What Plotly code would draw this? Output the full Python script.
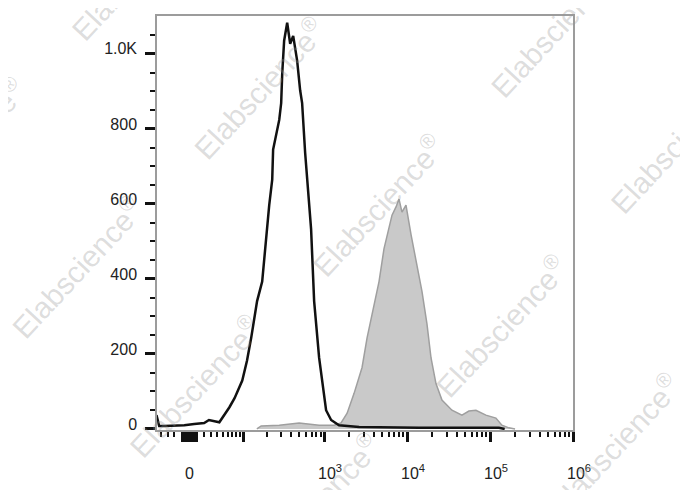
import numpy as np
import plotly.graph_objects as go

# ---------------- data ----------------
# Unstained / control histogram (black line): fluorescence intensity vs. count
ctrl_intensity = [-49, -44, -35, -20, -6.5, 6.5, 20, 27, 35, 44,
                  64, 76, 97, 112, 127, 151, 175, 196, 214, 233,
                  239, 284, 300, 309, 326, 355, 386, 420, 469, 510,
                  539, 586, 619, 692, 753, 865, 1050, 1208, 1505, 2627,
                  13870, 127600, 150000]
ctrl_count = [37, 8, 8, 8, 10, 13, 16, 24, 21, 18,
              58, 82, 129, 182, 243, 341, 393, 518, 597, 665,
              745, 824, 869, 948, 1035, 1083, 1027, 1048, 982, 903,
              869, 737, 671, 533, 341, 190, 50, 24, 10, 5,
              3, 3, 0]

# Stained histogram (grey filled)
stain_intensity = [150, 170, 284, 496, 865, 1311, 1592, 1885, 2287, 2853,
                   3280, 3767, 4571, 5252, 6558, 7330, 7966, 8650, 9665, 11120,
                   13120, 15070, 17310, 19360, 22230, 26260, 34660, 45730, 55490, 67460,
                   88980, 117500, 138700, 168400, 200000]
stain_count = [0, 8, 10, 16, 10, 10, 16, 42, 95, 164,
               243, 306, 393, 481, 570, 592, 613, 578, 597, 518,
               438, 367, 280, 190, 121, 77, 50, 37, 48, 50,
               37, 29, 10, 3, 0]

# axis ticks
y_tick_vals = [0, 200, 400, 600, 800, 1000]
y_tick_text = ["0", "200", "400", "600", "800", "1.0K"]
y_minor_vals = [50, 100, 150, 250, 300, 350, 450, 500, 550, 650, 700, 750,
                850, 900, 950, 1050]

x_label_vals = [0, 1e3, 1e4, 1e5, 1e6]
x_label_text = ["0", "10<sup>3</sup>", "10<sup>4</sup>",
                "10<sup>5</sup>", "10<sup>6</sup>"]

# ---------------- biexponential (arcsinh) display transform ----------------
W = 47.0


def biex(v):
    return np.arcsinh(np.asarray(v, dtype=float) / W) / np.log(10)


# major ticks: labelled ones, 10^2 and a dense block around zero
near_zero = [k for k in range(-9, 10) if k != 0]
major_vals = list(x_label_vals) + [100] + near_zero

minor_vals = [-50, -40, -30, -20, -10, 10]
for n in range(1, 6):
    for k in range(2, 10):
        minor_vals.append(k * 10 ** n)

fig = go.Figure()

fig.add_trace(go.Scatter(
    x=biex(stain_intensity), y=stain_count, mode="lines",
    fill="tozeroy", fillcolor="#c9c9c9",
    line=dict(color="#9f9f9f", width=1.5),
    showlegend=False, hoverinfo="skip"))

fig.add_trace(go.Scatter(
    x=biex(ctrl_intensity), y=ctrl_count, mode="lines",
    line=dict(color="#111111", width=2.5),
    showlegend=False, hoverinfo="skip"))

font_family = "Liberation Sans, Arial, Helvetica, sans-serif"

# page body has an 8px default margin -> figure is 8px smaller than the window
PLOT_H = 416
fig.update_layout(
    width=680, height=482,
    margin=dict(l=149, r=115, t=6, b=60),
    paper_bgcolor="white", plot_bgcolor="white",
    font=dict(family=font_family, size=16, color="#222222"),
    showlegend=False,
)

fig.update_xaxes(
    range=[float(biex(-48)), float(biex(1e6))],
    showgrid=False, zeroline=False,
    showline=True, linecolor="#9c9c9c", linewidth=1.5, mirror=True,
    tickmode="array", tickvals=list(biex(major_vals)),
    showticklabels=False,
    ticks="outside", ticklen=10, tickwidth=2.5, tickcolor="#111111",
    minor=dict(tickmode="array", tickvals=list(biex(minor_vals)),
               ticks="outside", ticklen=5, tickwidth=2, tickcolor="#111111",
               showgrid=False),
)

fig.update_yaxes(
    range=[-2.7, 1101],
    showgrid=False, zeroline=False,
    showline=True, linecolor="#9c9c9c", linewidth=1.5, mirror=True,
    tickmode="array", tickvals=y_tick_vals, ticktext=y_tick_text,
    ticks="outside", ticklen=10, tickwidth=3, tickcolor="#111111",
    ticklabelstandoff=5, ticklabelshift=-5,
    tickfont=dict(family=font_family, size=16, color="#222222"),
    minor=dict(tickmode="array", tickvals=y_minor_vals,
               ticks="outside", ticklen=5, tickwidth=2, tickcolor="#111111",
               showgrid=False),
)

# x tick labels placed below the axis
for val, txt in zip(x_label_vals, x_label_text):
    fig.add_annotation(
        x=float(biex(val)), xref="x", y=-54 / PLOT_H, yref="paper",
        text=txt, showarrow=False, xanchor="center", yanchor="bottom",
        xshift=6 if val > 0 else 0,
        font=dict(family=font_family, size=16, color="#222222"))

# ---------------- watermark ----------------
PLOT_L, PLOT_B, PLOT_W = 157, 430, 416
WATERMARK_PX = [(137, -33), (259, 86), (378, 204), (501, 325), (614, 444),
                (-40, 147), (77, 266), (195, 386), (314, 504),
                (556, 24), (676, 141)]
for (px, py) in WATERMARK_PX:
    fig.add_annotation(
        x=(px - PLOT_L) / PLOT_W, y=(PLOT_B - py) / PLOT_H,
        xref="paper", yref="paper", showarrow=False,
        text="Elabscience<sup>®</sup>", textangle=-47,
        font=dict(family=font_family, size=30, color="rgba(150,150,150,0.32)"),
        xanchor="center", yanchor="middle")

fig.write_html("out.html")
